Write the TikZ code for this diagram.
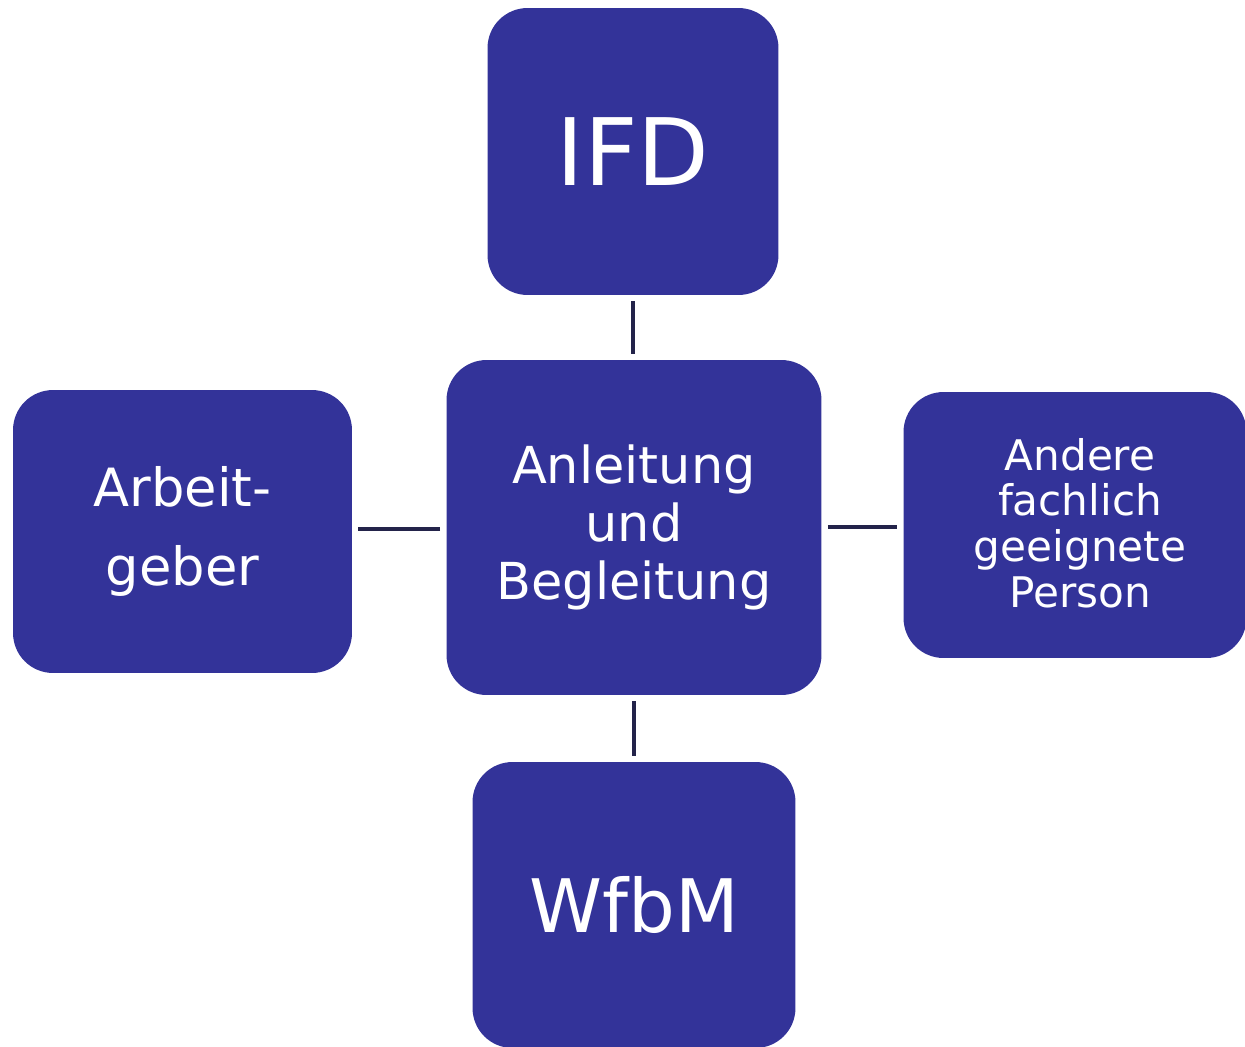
\documentclass[tikz,border=0pt]{standalone}
\usepackage{fontspec}
\setmainfont{DejaVu Sans}
\usetikzlibrary{positioning}
\definecolor{boxblue}{HTML}{333399}
\definecolor{linenavy}{HTML}{23234A}

\begin{document}
\begin{tikzpicture}[x=0.02cm,y=-0.02cm,
    box/.style={fill=boxblue, text=white, rounded corners=0.8cm, align=center, inner sep=0pt},
    link/.style={linenavy, line width=2.8pt, shorten >=0.12cm, shorten <=0.12cm}]
                \useasboundingbox (0,0) rectangle (1245,1046);

                % Define the boxes
                \node[box, minimum width=5.82cm, minimum height=5.74cm,
                      font=\fontsize{53}{60}\selectfont] (ifd) at (633,151.5) {IFD};
                \node[box, minimum width=7.5cm, minimum height=6.7cm,
                      font=\fontsize{29}{33}\selectfont] (centre) at (634,527.5)
                      {Anleitung\\und\\Begleitung};
                \node[box, minimum width=6.78cm, minimum height=5.66cm,
                      font=\fontsize{30}{45}\selectfont] (arbeit) at (182.5,531.5)
                      {Arbeit-\\geber};
                \node[box, minimum width=6.86cm, minimum height=5.32cm] (andere) at (1075,525) {};
                \node[text=white, align=center, font=\fontsize{24}{26}\selectfont]
                      (anderetext) at (1080,523) {Andere\\fachlich\\geeignete\\Person};
                \node[box, minimum width=6.46cm, minimum height=5.72cm,
                      font=\fontsize{42}{48}\selectfont] (wfbm) at (634,905) {WfbM};

                % Draw the lines
                \draw[link] (ifd.south) -- (ifd.south |- centre.north);
                \draw[link] (centre.south) -- (centre.south |- wfbm.north);
                \draw[link] (centre.west |- 0,529) -- (arbeit.east |- 0,529);
                \draw[link] (centre.east |- 0,527) -- (andere.west |- 0,527);
\end{tikzpicture}
\end{document}
